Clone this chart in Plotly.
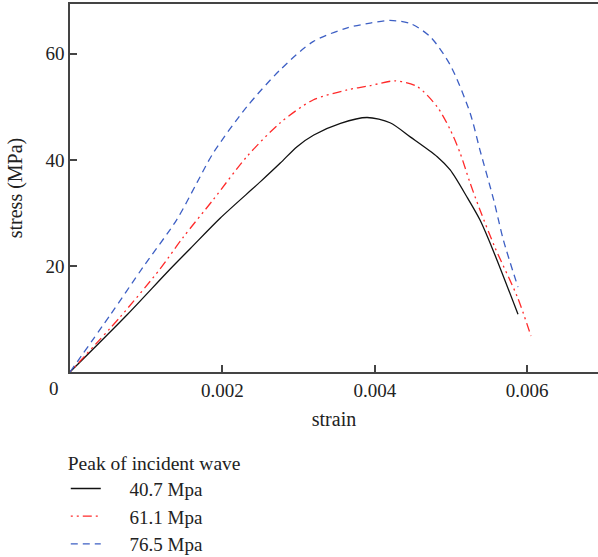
import plotly.graph_objects as go

strain_a = [0, 0.00075, 0.0013, 0.00158, 0.00197, 0.0025, 0.00276, 0.00298, 0.0032, 0.00355, 0.0039, 0.0042, 0.00447, 0.00482, 0.00499, 0.00521, 0.00538, 0.00554, 0.00588]
stress_a = [0, 10.8, 19.2, 23.3, 29.0, 35.9, 39.4, 42.5, 44.7, 46.9, 48.0, 47.0, 44.3, 40.6, 38.1, 33.0, 28.7, 23.4, 10.9]

strain_b = [0, 0.00066, 0.00118, 0.00148, 0.00188, 0.00232, 0.00276, 0.00319, 0.00364, 0.00394, 0.00427, 0.00456, 0.00482, 0.00499, 0.00512, 0.00525, 0.00538, 0.00558, 0.00587, 0.00605]
stress_b = [0, 10.4, 19.4, 25.3, 32.5, 40.6, 47.0, 51.3, 53.2, 54.0, 54.9, 53.8, 50.0, 45.7, 41.3, 35.7, 30.6, 23.4, 14.2, 6.8]

strain_c = [0, 0.00053, 0.00096, 0.0014, 0.00167, 0.00188, 0.00232, 0.00276, 0.00319, 0.00364, 0.00394, 0.0042, 0.00447, 0.00473, 0.00499, 0.00525, 0.00538, 0.00556, 0.00569, 0.00588]
stress_c = [0, 10.8, 19.8, 28.7, 35.8, 41.3, 50.0, 57.0, 62.3, 64.9, 65.8, 66.3, 65.7, 63.2, 57.9, 48.9, 41.9, 32.5, 24.8, 16.0]

names = ["40.7 Mpa", "61.1 Mpa", "76.5 Mpa"]
legend_title = "Peak of incident wave"
xticks = [0.002, 0.004, 0.006]
xticklabels = ["0.002", "0.004", "0.006"]
yticks = [20, 40, 60]
yticklabels = ["20", "40", "60"]

FONT = "Liberation Serif"
TXT = "#222222"
PAD = "&nbsp;" * 5

fig = go.Figure()
fig.add_trace(go.Scatter(x=strain_a, y=stress_a, mode="lines", name=PAD + names[0],
                         line=dict(color="#111111", width=1.3, dash="solid", shape="spline", smoothing=0.8)))
fig.add_trace(go.Scatter(x=strain_b, y=stress_b, mode="lines", name=PAD + names[1],
                         line=dict(color="#ff2a2a", width=1.3, dash="2px,4px,2px,4px,9px,4px", shape="spline", smoothing=0.8)))
fig.add_trace(go.Scatter(x=strain_c, y=stress_c, mode="lines", name=PAD + names[2],
                         line=dict(color="#3d5fc4", width=1.3, dash="7px,5px", shape="spline", smoothing=0.8)))

fig.update_layout(
    width=598, height=557,
    margin=dict(l=70, r=0, t=4, b=185, autoexpand=False),
    paper_bgcolor="white", plot_bgcolor="white",
    font=dict(family=FONT, size=19, color=TXT),
    showlegend=True,
    legend=dict(
        title=dict(text=legend_title, font=dict(family=FONT, size=19.5, color=TXT)),
        font=dict(family=FONT, size=19, color=TXT),
        x=-0.008, xanchor="left", y=-0.1965, yanchor="top",
        tracegroupgap=0, itemwidth=30,
        bgcolor="rgba(0,0,0,0)",
    ),
    xaxis=dict(
        range=[0, 0.00693], showgrid=False, zeroline=False,
        showline=True, linecolor="#444444", linewidth=1.5, mirror=True,
        ticks="inside", ticklen=7, tickwidth=1.5, tickcolor="#444444",
        tickvals=xticks, ticktext=xticklabels,
        title=dict(text="strain", font=dict(family=FONT, size=20), standoff=12),
    ),
    yaxis=dict(
        range=[0, 69.4], showgrid=False, zeroline=False,
        showline=True, linecolor="#444444", linewidth=1.5,
        ticks="inside", ticklen=7, tickwidth=1.5, tickcolor="#444444",
        tickvals=yticks, ticktext=yticklabels,
        title=dict(text="stress (MPa)", font=dict(family=FONT, size=20), standoff=17),
    ),
)

fig.add_annotation(x=0, y=0, xref="x", yref="y", text="0", showarrow=False,
                   xanchor="right", yanchor="top", xshift=-9, yshift=-4,
                   font=dict(family=FONT, size=19, color=TXT))

fig.write_html("out.html")
